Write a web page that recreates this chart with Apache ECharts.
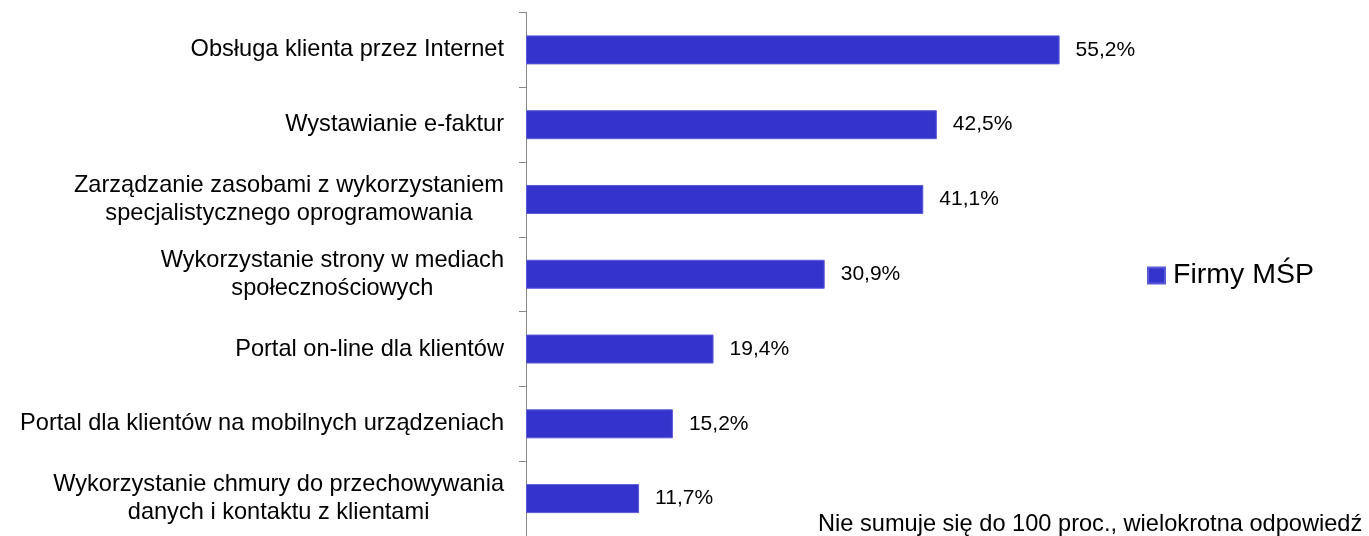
<!DOCTYPE html>
<html>
    <head>
        <meta charset='utf-8'>
        <title>Firmy MSP</title>
        <style>
            html, body { margin: 0; padding: 0; background: #fff; }
            #chart { width: 1369px; height: 536px; }
        </style>
        <script type="text/javascript" src="https://cdn.jsdelivr.net/npm/echarts@6/dist/echarts.min.js"></script>
    </head>
    <body>
        <div id="chart"></div>
    </body>
    <script type="text/javascript">
        var categories = [
            'Obsługa klienta przez Internet',
            'Wystawianie e-faktur',
            'Zarządzanie zasobami z wykorzystaniem\nspecjalistycznego oprogramowania',
            'Wykorzystanie strony w mediach\nspołecznościowych',
            'Portal on-line dla klientów',
            'Portal dla klientów na mobilnych urządzeniach',
            'Wykorzystanie chmury do przechowywania\ndanych i kontaktu z klientami'
        ];
        var values = [55.2, 42.5, 41.1, 30.9, 19.4, 15.2, 11.7];
        var seriesName = 'Firmy MŚP';
        var footnote = 'Nie sumuje się do 100 proc., wielokrotna odpowiedź';

        var font = 'Liberation Sans, Arial, sans-serif';
        var chart = echarts.init(document.getElementById('chart'));
        var option = {
            animation: false,
            grid: {left: 526, right: 263, top: 12.5, height: 525},
            legend: {
                data: [seriesName],
                left: 1142, top: 256,
                icon: 'rect', itemWidth: 17, itemHeight: 16, itemGap: 10,
                textStyle: {fontFamily: font, fontSize: 28.5, color: '#000', padding: [0, 0, 0, 3]}
            },
            xAxis: {type: 'value', min: 0, max: 60, show: false},
            yAxis: {
                type: 'category',
                inverse: true,
                data: categories,
                axisLine: {show: true, lineStyle: {color: '#888', width: 1}},
                axisTick: {show: true, inside: false, length: 7, lineStyle: {color: '#888', width: 1}},
                axisLabel: {
                    margin: 22,
                    formatter: function (v) {
                        return v.split('\n').map(function (s) { return '{c|' + s + '}'; }).join('\n');
                    },
                    rich: {
                        c: {align: 'center', fontFamily: font, fontSize: 23.6, lineHeight: 28, color: '#000'}
                    }
                }
            },
            series: [{
                name: seriesName,
                type: 'bar',
                data: values,
                barWidth: 29,
                itemStyle: {color: '#3434CC', borderColor: '#5a5ad8', borderWidth: 1},
                label: {
                    show: true,
                    position: 'right',
                    distance: 16,
                    fontFamily: font,
                    fontSize: 21,
                    color: '#000',
                    formatter: function (p) { return p.value.toFixed(1).replace('.', ',') + '%'; }
                }
            }],
            graphic: [{
                type: 'text',
                left: 818, top: 512,
                style: {text: footnote, fontFamily: font, fontSize: 23.6, fill: '#000'}
            }]
        };
        chart.setOption(option);
    </script>
</html>
